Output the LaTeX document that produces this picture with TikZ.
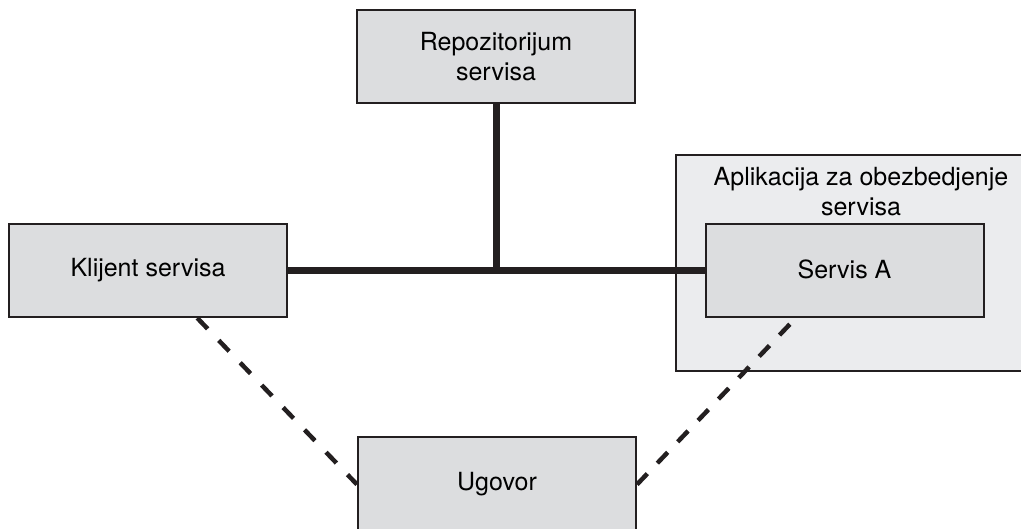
\documentclass[tikz,border=0pt]{standalone}
\usepackage{fontspec}
\setmainfont{TeX Gyre Heros}
\usetikzlibrary{calc}
\definecolor{boxfill}{HTML}{DCDDDF}
\definecolor{appfill}{HTML}{EBECEE}
\definecolor{ink}{HTML}{231F20}
\begin{document}
\begin{tikzpicture}[x=1pt,y=-1pt,
  every node/.style={font=\fontsize{25}{30}\selectfont, text=black},
  unit/.style={draw=ink, line width=2pt, fill=boxfill, minimum width=278pt,
    minimum height=93pt, inner sep=0pt, align=center},
  appbox/.style={draw=ink, line width=2pt, fill=appfill, inner sep=0pt},
  bus/.style={draw=ink, line width=7pt},
  contract/.style={draw=ink, line width=4.5pt, dash pattern=on 15pt off 16pt}]
  \useasboundingbox (0,0) rectangle (1021,529);
  \clip (0,0) rectangle (1021,529);

  % outer application container (runs past the right edge)
  \node[appbox, minimum width=355pt, minimum height=216pt, anchor=north west]
    (app) at (675,154) {};
  \node[align=center] (apptitle) at (861,192) {Aplikacija za obezbedjenje\\servisa};

  \node[unit] (repo) at (496,56.5) {Repozitorijum\\servisa};
  \node[unit] (klijent) at (148,270.5) {Klijent servisa};
  \node[unit] (servis) at (844.5,270.5) {\raisebox{3pt}{Servis A}};
  \node[unit] (ugovor) at (497,484) {Ugovor};

  % service bus
  \coordinate (junction) at (repo.south |- klijent.east);
  \draw[bus] (klijent.east) -- (servis.west);
  \draw[bus] (repo.south) -- (junction);

  % contract links
  \coordinate (kc) at ($(klijent.south west)!0.676!(klijent.south east)$);
  \coordinate (sc) at ($(servis.south west)!0.326!(servis.south east)$);
  \coordinate (ul) at ($(ugovor.north west)+(0,48)$);
  \coordinate (ur) at ($(ugovor.north east)+(0,48)$);
  \draw[contract] (kc) -- (ul);
  \draw[contract, dash pattern=on 15pt off 14.5pt] (ur) -- (sc);
\end{tikzpicture}
\end{document}
